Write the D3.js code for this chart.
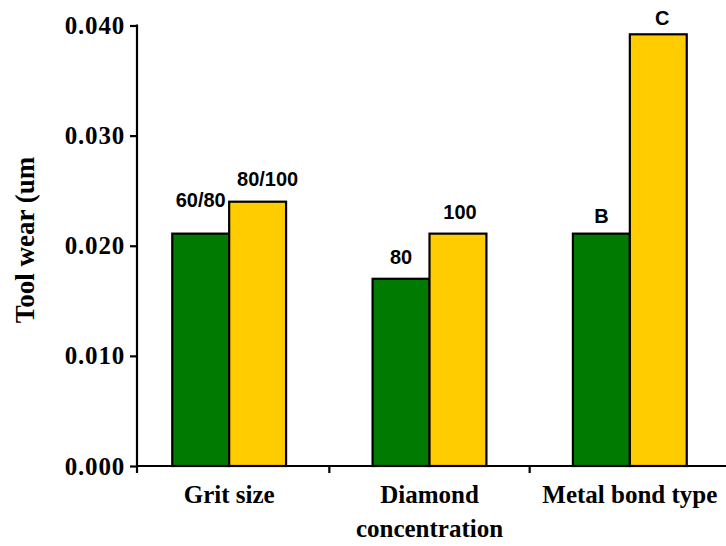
<!DOCTYPE html>
<html>
<head>
<meta charset="utf-8">
<script src="https://cdn.jsdelivr.net/npm/d3@7"></script>
<style>
  html, body { margin: 0; padding: 0; background: #fff; }
  svg { display: block; }
  .serif { font-family: "Liberation Serif", "Times New Roman", serif; font-weight: bold; }
  .sans { font-family: "Liberation Sans", Arial, sans-serif; font-weight: bold; }
</style>
</head>
<body>
<svg id="chart" width="726" height="546"></svg>
<script>
// Tool wear by factor, two levels per factor
const categories = [["Grit size"], ["Diamond", "concentration"], ["Metal bond type"]];
const groupKeys = ["Grit size", "Diamond concentration", "Metal bond type"];
const levelA = [0.0211, 0.0170, 0.0211];
const levelB = [0.0240, 0.0211, 0.0392];
const labelsA = ["60/80", "80", "B"];
const labelsB = ["80/100", "100", "C"];
const yTicks = [0.000, 0.010, 0.020, 0.030, 0.040];
const yTitle = "Tool wear (um";

const colorA = "#007a00";
const colorB = "#ffcc00";

// label placement: gap above the bar top and horizontal nudge, per bar
const labelGapA = [27, 15, 11];
const labelGapB = [16, 15, 9];
const labelDxA = [0, 0, 0];
const labelDxB = [10, 2, 4];

const svg = d3.select("#chart");
const axisX = 137;
const baseY = 466;

const y = d3.scaleLinear().domain([0, 0.04]).range([baseY, 25.5]);
const x0 = d3.scaleBand().domain(groupKeys).range([129, 730]).paddingInner(0).paddingOuter(0);
const x1 = d3.scaleBand().domain(["A", "B"]).range([0, x0.bandwidth()]).paddingInner(0).paddingOuter(0.76);

const rows = groupKeys.map((k, i) => ({
  key: k, i,
  bars: [
    { s: "A", v: levelA[i], label: labelsA[i], fill: colorA, gap: labelGapA[i], dx: labelDxA[i] },
    { s: "B", v: levelB[i], label: labelsB[i], fill: colorB, gap: labelGapB[i], dx: labelDxB[i] }
  ]
}));

// bars
const g = svg.append("g");
const grp = g.selectAll("g.grp").data(rows).join("g")
  .attr("class", "grp")
  .attr("transform", d => `translate(${x0(d.key)},0)`);

grp.selectAll("rect").data(d => d.bars).join("rect")
  .attr("x", d => x1(d.s))
  .attr("width", x1.bandwidth())
  .attr("y", d => y(d.v))
  .attr("height", d => y(0) - y(d.v))
  .attr("fill", d => d.fill)
  .attr("stroke", "#000")
  .attr("stroke-width", 2.2);

grp.selectAll("text.val").data(d => d.bars).join("text")
  .attr("class", "val sans")
  .attr("x", d => x1(d.s) + x1.bandwidth() / 2 + d.dx)
  .attr("y", d => y(d.v) - d.gap)
  .attr("text-anchor", "middle")
  .style("font-size", "20px")
  .attr("fill", "#000")
  .text(d => d.label);

// y axis
const yAxis = d3.axisLeft(y).tickValues(yTicks).tickFormat(d3.format(".3f")).tickSize(7).tickPadding(5);
const ya = svg.append("g").attr("transform", `translate(${axisX},0)`).call(yAxis);
ya.attr("font-family", null).attr("font-size", null);
ya.select(".domain").remove();
ya.selectAll(".tick line").attr("stroke", "#000").attr("stroke-width", 2.2);
ya.selectAll(".tick text")
  .attr("class", "serif")
  .style("font-size", "25px")
  .style("letter-spacing", "0.8px")
  .attr("fill", "#000");
svg.append("line")
  .attr("x1", axisX).attr("x2", axisX)
  .attr("y1", y(0.04) - 1).attr("y2", baseY + 7)
  .attr("stroke", "#000").attr("stroke-width", 2.2);

// x axis baseline and separator ticks between groups
svg.append("line")
  .attr("x1", axisX).attr("x2", 726)
  .attr("y1", baseY).attr("y2", baseY)
  .attr("stroke", "#000").attr("stroke-width", 2.2);
svg.selectAll("line.sep").data(groupKeys.slice(1)).join("line")
  .attr("class", "sep")
  .attr("x1", d => x0(d)).attr("x2", d => x0(d))
  .attr("y1", baseY).attr("y2", baseY + 7)
  .attr("stroke", "#000").attr("stroke-width", 2.2);

// category labels
const cat = svg.selectAll("text.cat").data(categories).join("text")
  .attr("class", "cat serif")
  .attr("text-anchor", "middle")
  .style("font-size", "25px")
  .attr("fill", "#000");
cat.each(function (lines, i) {
  const cx = x0(groupKeys[i]) + x0.bandwidth() / 2;
  d3.select(this).selectAll("tspan").data(lines).join("tspan")
    .attr("x", cx)
    .attr("y", (d, j) => 503 + j * 34)
    .text(d => d);
});

// y axis title
svg.append("text")
  .attr("class", "serif")
  .attr("transform", "translate(34,240) rotate(-90)")
  .attr("text-anchor", "middle")
  .style("font-size", "27px")
  .attr("fill", "#000")
  .text(yTitle);
</script>
</body>
</html>
